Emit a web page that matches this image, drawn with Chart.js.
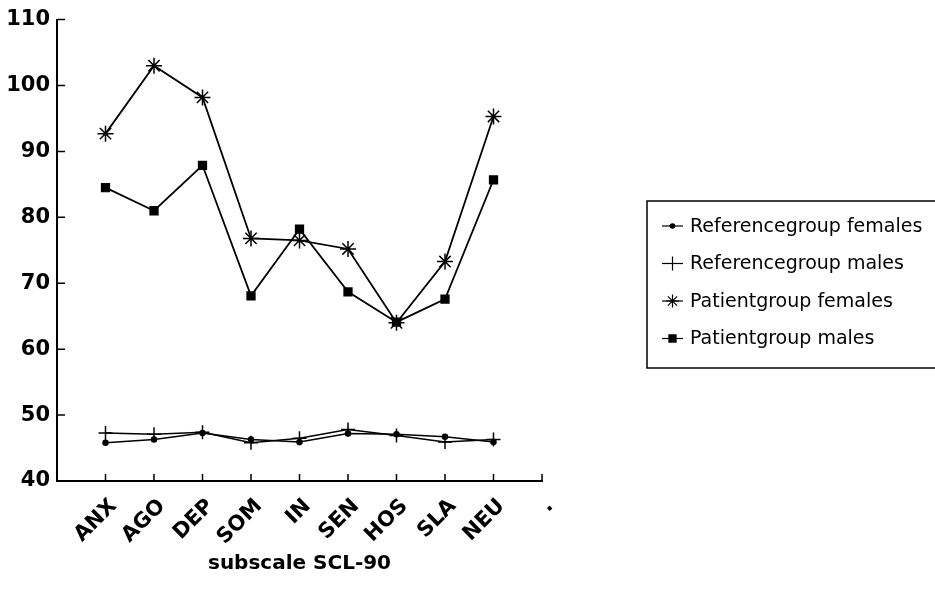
<!DOCTYPE html>
<html>
<head>
<meta charset="utf-8">
<script src="https://cdn.jsdelivr.net/npm/chart.js@4.4.0/dist/chart.umd.min.js"></script>
<style>
  html, body { margin: 0; padding: 0; background: #fff; }
  #wrap { width: 935px; height: 594px; position: relative; }
</style>
</head>
<body>
<div id="wrap"><canvas id="scl90"></canvas></div>
<script>
// SCL-90 subscale scores, reference vs patient groups

const subscales = ['ANX', 'AGO', 'DEP', 'SOM', 'IN', 'SEN', 'HOS', 'SLA', 'NEU']
// first slot sits on the y axis, last one is the stray dot at the end of the axis
const tickLabels = ['', ...subscales, '.']

const refFemales = [45.8, 46.3, 47.3, 46.3, 45.9, 47.2, 47.1, 46.7, 45.9]
const refMales = [47.3, 47.1, 47.4, 45.8, 46.5, 47.8, 46.9, 45.9, 46.3]
const patFemales = [92.7, 103.0, 98.2, 76.8, 76.5, 75.2, 64.0, 73.3, 95.3]
const patMales = [84.5, 81.0, 87.9, 68.1, 78.2, 68.7, 64.1, 67.6, 85.7]

const yTicks = [40, 50, 60, 70, 80, 90, 100, 110]

const FONT = '"DejaVu Sans", "Liberation Sans", Arial, sans-serif'

// pad the series so they line up with the padded category labels
const pad = (arr) => [null, ...arr, null]

const series = (label, values, style, radius, legendRadius, width) => {
  return {
    label: label,
    data: pad(values),
    borderColor: '#000',
    backgroundColor: '#000',
    borderWidth: width,
    pointStyle: style,
    pointRadius: radius,
    pointBorderWidth: 1.5,
    pointBackgroundColor: '#000',
    pointBorderColor: '#000',
    legendRadius: legendRadius,
    tension: 0,
    spanGaps: false,
  }
}

// tick marks in this figure point into the plot, so draw them ourselves
const insideTicks = {
  id: 'insideTicks',
  afterDraw(chart) {
    const ctx = chart.ctx
    const xs = chart.scales.x
    const ys = chart.scales.y
    ctx.save()
    ctx.strokeStyle = '#000'
    ctx.lineWidth = 1.5
    ctx.beginPath()
    xs.ticks.forEach((t, i) => {
      if (i === 0) return
      const px = xs.getPixelForTick(i)
      ctx.moveTo(px, xs.top)
      ctx.lineTo(px, xs.top - 7)
    })
    ys.ticks.forEach((t, i) => {
      const py = ys.getPixelForTick(i)
      ctx.moveTo(ys.right, py)
      ctx.lineTo(ys.right + 8, py)
    })
    ctx.stroke()
    ctx.restore()
  }
}

// boxed legend with line + marker samples
const boxLegend = {
  id: 'boxLegend',
  afterDraw(chart) {
    const ctx = chart.ctx
    const left = 647
    const top = 201
    ctx.save()
    ctx.strokeStyle = '#000'
    ctx.fillStyle = '#000'
    ctx.lineWidth = 1.5
    ctx.strokeRect(left, top, 320, 167)
    ctx.font = '19px ' + FONT
    ctx.textBaseline = 'middle'
    ctx.textAlign = 'left'
    chart.data.datasets.forEach((ds, i) => {
      const cy = top + 25 + i * 37.5
      ctx.lineWidth = 1.2
      ctx.beginPath()
      ctx.moveTo(left + 15, cy)
      ctx.lineTo(left + 36, cy)
      ctx.stroke()
      Chart.helpers.drawPoint(ctx, {
        pointStyle: ds.pointStyle,
        radius: ds.legendRadius,
        borderWidth: 1.2,
        rotation: 0,
      }, left + 25.5, cy)
      ctx.fillText(ds.label, left + 43, cy + 1)
    })
    ctx.restore()
  }
}

const ctx = document.getElementById('scl90').getContext('2d')
const chart = new Chart(ctx, {
  type: 'line',
  data: {
    labels: tickLabels,
    datasets: [
      series('Referencegroup females', refFemales, 'circle', 2.5, 2.2, 1.5),
      series('Referencegroup males', refMales, 'cross', 7, 7, 1.5),
      series('Patientgroup females', patFemales, 'star', 8, 6.5, 1.8),
      series('Patientgroup males', patMales, 'rect', 5.5, 5, 1.8),
    ]
  },
  plugins: [insideTicks, boxLegend],
  options: {
    responsive: true,
    maintainAspectRatio: false,
    animation: false,
    layout: {
      padding: { left: 0, top: 16, right: 393, bottom: 20 }
    },
    plugins: {
      legend: { display: false },
      tooltip: { enabled: false },
    },
    scales: {
      x: {
        type: 'category',
        offset: false,
        grid: { display: false, drawTicks: false },
        border: { display: true, color: '#000', width: 2 },
        ticks: {
          autoSkip: false,
          maxRotation: 45,
          minRotation: 45,
          padding: 13,
          labelOffset: 8,
          color: '#000',
          font: { family: FONT, size: 21, weight: 'bold' },
        },
        title: {
          display: true,
          text: 'subscale SCL-90',
          color: '#000',
          padding: { top: 0, bottom: -2 },
          font: { family: FONT, size: 20, weight: 'bold' },
        },
        afterFit: (scale) => { scale.height = 93 },
      },
      y: {
        min: yTicks[0],
        max: yTicks[yTicks.length - 1],
        grid: { display: false, drawTicks: false },
        border: { display: true, color: '#000', width: 2 },
        afterBuildTicks: (scale) => {
          scale.ticks = yTicks.map(v => ({ value: v }))
        },
        ticks: {
          padding: 7,
          color: '#000',
          font: { family: FONT, size: 21, weight: 'bold' },
        },
        afterFit: (scale) => { scale.width = 57 },
      }
    }
  }
})
</script>
</body>
</html>
